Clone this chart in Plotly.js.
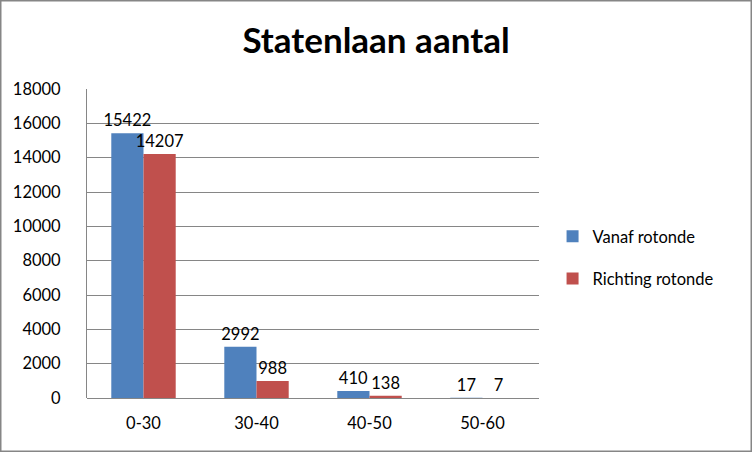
<!DOCTYPE html>
<html>
<head>
<meta charset="utf-8">
<script src="https://cdn.plot.ly/plotly-3.0.1.min.js"></script>
<style>
  html, body { margin: 0; padding: 0; background: #fff; }
  #chart { width: 752px; height: 452px; }
</style>
</head>
<body>
<div id="chart"></div>
<script>
var categories = ["0-30", "30-40", "40-50", "50-60"];
var vanaf = [15422, 2992, 410, 17];
var richting = [14207, 988, 138, 7];
var yTicks = [0, 2000, 4000, 6000, 8000, 10000, 12000, 14000, 16000, 18000];

var font = "Lato, 'Open Sans', sans-serif";

function barTrace(name, values, color) {
    return {
        type: "bar",
        name: name,
        legendgroup: name,
        x: categories,
        y: values,
        text: values.map(String),
        textposition: "outside",
        constraintext: "none",
        cliponaxis: false,
        textfont: { family: font, size: 16.5, color: "#000" },
        marker: { color: color },
    };
}

var data = [
    barTrace("Vanaf rotonde", vanaf, "#4F81BD"),
    barTrace("Richting rotonde", richting, "#C0504D"),
];

var layout = {
    width: 752,
    height: 452,
    paper_bgcolor: "#fff",
    plot_bgcolor: "#fff",
    barmode: "group",
    bargap: 0.43,
    bargroupgap: 0,
    margin: { l: 87, r: 213, t: 89, b: 54, pad: 0 },
    title: {
        text: "<b>Statenlaan aantal</b>",
        font: { family: font, size: 35, color: "#000" },
        x: 0.5,
        xanchor: "center",
        y: 0.91,
        yanchor: "middle",
    },
    xaxis: {
        type: "category",
        showgrid: false,
        showline: false,
        ticks: "",
        tickfont: { family: font, size: 16.5, color: "#000" },
        ticklabelstandoff: 13,
    },
    yaxis: {
        range: [0, 18000],
        tickvals: yTicks,
        ticktext: yTicks.map(String),
        showgrid: true,
        gridcolor: "#868686",
        gridwidth: 1,
        showline: true,
        linecolor: "#868686",
        zeroline: true,
        zerolinecolor: "#868686",
        ticks: "",
        tickfont: { family: font, size: 16.5, color: "#000" },
        ticklabelstandoff: 22,
    },
    showlegend: true,
    legend: {
        x: 1.03,
        y: 0.455,
        xanchor: "left",
        yanchor: "middle",
        font: { family: font, size: 16.5, color: "#000" },
        tracegroupgap: 18,
        itemwidth: 30,
        bgcolor: "rgba(0,0,0,0)",
    },
    shapes: [
        {
            type: "rect",
            xref: "paper",
            yref: "paper",
            x0: -87 / 452,
            x1: 1 + 213 / 452,
            y0: -54 / 309,
            y1: 1 + 89 / 309,
            line: { color: "#868686", width: 3 },
        },
    ],
};

Plotly.newPlot("chart", data, layout, { staticPlot: true });
</script>
</body>
</html>
